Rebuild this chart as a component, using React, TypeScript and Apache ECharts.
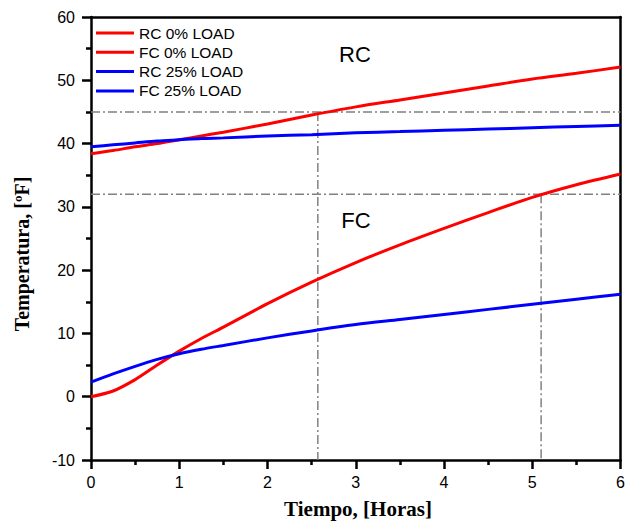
import React, { useEffect, useRef } from "react";
import * as echarts from "echarts";

const hours = [0, 0.25, 0.5, 0.75, 1, 1.25, 1.5, 2, 2.5, 3, 3.5, 4, 4.5, 5, 5.5, 6];
const rc0 = [38.4, 38.9, 39.5, 40.0, 40.6, 41.2, 41.8, 43.1, 44.5, 45.8, 46.9, 48.0, 49.1, 50.2, 51.1, 52.1];
const fc0 = [0, 0.9, 2.7, 5.0, 7.2, 9.2, 11.0, 14.7, 18.1, 21.2, 24.0, 26.6, 29.1, 31.5, 33.5, 35.2];
const rc25 = [39.5, 39.8, 40.1, 40.4, 40.6, 40.8, 40.9, 41.2, 41.4, 41.7, 41.9, 42.1, 42.3, 42.5, 42.7, 42.9];
const fc25 = [2.3, 3.6, 4.8, 5.9, 6.8, 7.5, 8.1, 9.3, 10.4, 11.4, 12.2, 13.0, 13.8, 14.6, 15.4, 16.2];

const seriesNames = ["RC 0% LOAD", "FC 0% LOAD", "RC 25% LOAD", "FC 25% LOAD"];
const seriesColors = ["#ff0000", "#ff0000", "#0000ff", "#0000ff"];
const seriesValues = [rc0, fc0, rc25, fc25];

// reference guides: [temperature level, time where it is reached]
const guideTemps = [45, 32];
const guideTimes = [2.57, 5.1];

const xTicks = { min: 0, max: 6, interval: 1 };
const yTicks = { min: -10, max: 60, interval: 10 };

export default function App() {
  const ref = useRef<HTMLDivElement>(null);

  useEffect(() => {
    document.body.style.margin = "0";
    const chart = echarts.init(ref.current!, null, { renderer: "svg" });
    const axisColor = "#000";
    const labelFont = { fontSize: 16, color: "#000", fontFamily: "Liberation Sans, Arial, sans-serif" };

    const mainSeries = seriesNames.map((name, i) => ({
      name,
      type: "line",
      data: hours.map((h, j) => [h, seriesValues[i][j]]),
      smooth: 0.3,
      symbol: "none",
      lineStyle: { color: seriesColors[i], width: 3 },
      itemStyle: { color: seriesColors[i] },
      z: 5,
    }));

    const guideSeries: any[] = [];
    guideTemps.forEach((t, i) => {
      guideSeries.push({
        name: "guideH" + i,
        type: "line",
        data: [[xTicks.min, t], [xTicks.max, t]],
        symbol: "none",
        silent: true,
        lineStyle: { color: "#808080", width: 1.5, type: [9, 3, 2, 3] },
        z: 3,
      });
      guideSeries.push({
        name: "guideV" + i,
        type: "line",
        data: [[guideTimes[i], t], [guideTimes[i], yTicks.min]],
        symbol: "none",
        silent: true,
        lineStyle: { color: "#808080", width: 1.5, type: [9, 3, 2, 3] },
        z: 3,
      });
    });

    chart.setOption({
      animation: false,
      grid: { left: 91, right: 1, top: 17, bottom: 62, containLabel: false },
      legend: {
        data: seriesNames.map((n) => ({ name: n, icon: "rect" })),
        orient: "vertical",
        left: 91,
        top: 20,
        itemWidth: 38,
        itemHeight: 3,
        itemGap: 3.3,
        textStyle: {
          fontSize: 15.5,
          lineHeight: 15,
          color: "#000",
          fontFamily: "Liberation Sans, Arial, sans-serif",
        },
      },
      xAxis: [
        {
          type: "value",
          ...xTicks,
          position: "bottom",
          axisLine: { show: true, onZero: false, lineStyle: { color: axisColor, width: 2.5 } },
          axisTick: { show: true, inside: false, length: 9, lineStyle: { color: axisColor, width: 2.5 } },
          minorTick: { show: true, splitNumber: 2, length: 5, lineStyle: { color: axisColor, width: 2.5 } },
          axisLabel: { ...labelFont, margin: 14 },
          splitLine: { show: false },
        },
        {
          type: "value",
          ...xTicks,
          position: "top",
          axisLine: { show: true, onZero: false, lineStyle: { color: axisColor, width: 2.5 } },
          axisTick: { show: false },
          axisLabel: { show: false },
          splitLine: { show: false },
        },
      ],
      yAxis: [
        {
          type: "value",
          ...yTicks,
          position: "left",
          axisLine: { show: true, onZero: false, lineStyle: { color: axisColor, width: 2.5 } },
          axisTick: { show: true, inside: false, length: 9, lineStyle: { color: axisColor, width: 2.5 } },
          minorTick: { show: true, splitNumber: 2, length: 5, lineStyle: { color: axisColor, width: 2.5 } },
          axisLabel: { ...labelFont, margin: 16 },
          splitLine: { show: false },
        },
        {
          type: "value",
          ...yTicks,
          position: "right",
          axisLine: { show: true, onZero: false, lineStyle: { color: axisColor, width: 2.5 } },
          axisTick: { show: false },
          axisLabel: { show: false },
          splitLine: { show: false },
        },
      ],
      graphic: [
        {
          type: "text",
          x: 358,
          y: 509,
          style: {
            text: "Tiempo, [Horas]",
            font: "bold 21px 'Liberation Serif', 'Times New Roman', serif",
            fill: "#000",
            align: "center",
            verticalAlign: "middle",
          },
        },
        {
          type: "text",
          x: 22,
          y: 254,
          rotation: Math.PI / 2,
          style: {
            text: "Temperatura, [ºF]",
            font: "bold 20px 'Liberation Serif', 'Times New Roman', serif",
            fill: "#000",
            align: "center",
            verticalAlign: "middle",
          },
        },
        {
          type: "text",
          x: 355,
          y: 54,
          style: {
            text: "RC",
            font: "22px 'Liberation Sans', Arial, sans-serif",
            fill: "#000",
            align: "center",
            verticalAlign: "middle",
          },
        },
        {
          type: "text",
          x: 356,
          y: 220,
          style: {
            text: "FC",
            font: "22px 'Liberation Sans', Arial, sans-serif",
            fill: "#000",
            align: "center",
            verticalAlign: "middle",
          },
        },
      ],
      series: [...guideSeries, ...mainSeries],
    });

    return () => chart.dispose();
  }, []);

  return (
    <div
      ref={ref}
      style={{ position: "fixed", left: 0, top: 0, width: 628, height: 522, background: "#fff" }}
    />
  );
}
